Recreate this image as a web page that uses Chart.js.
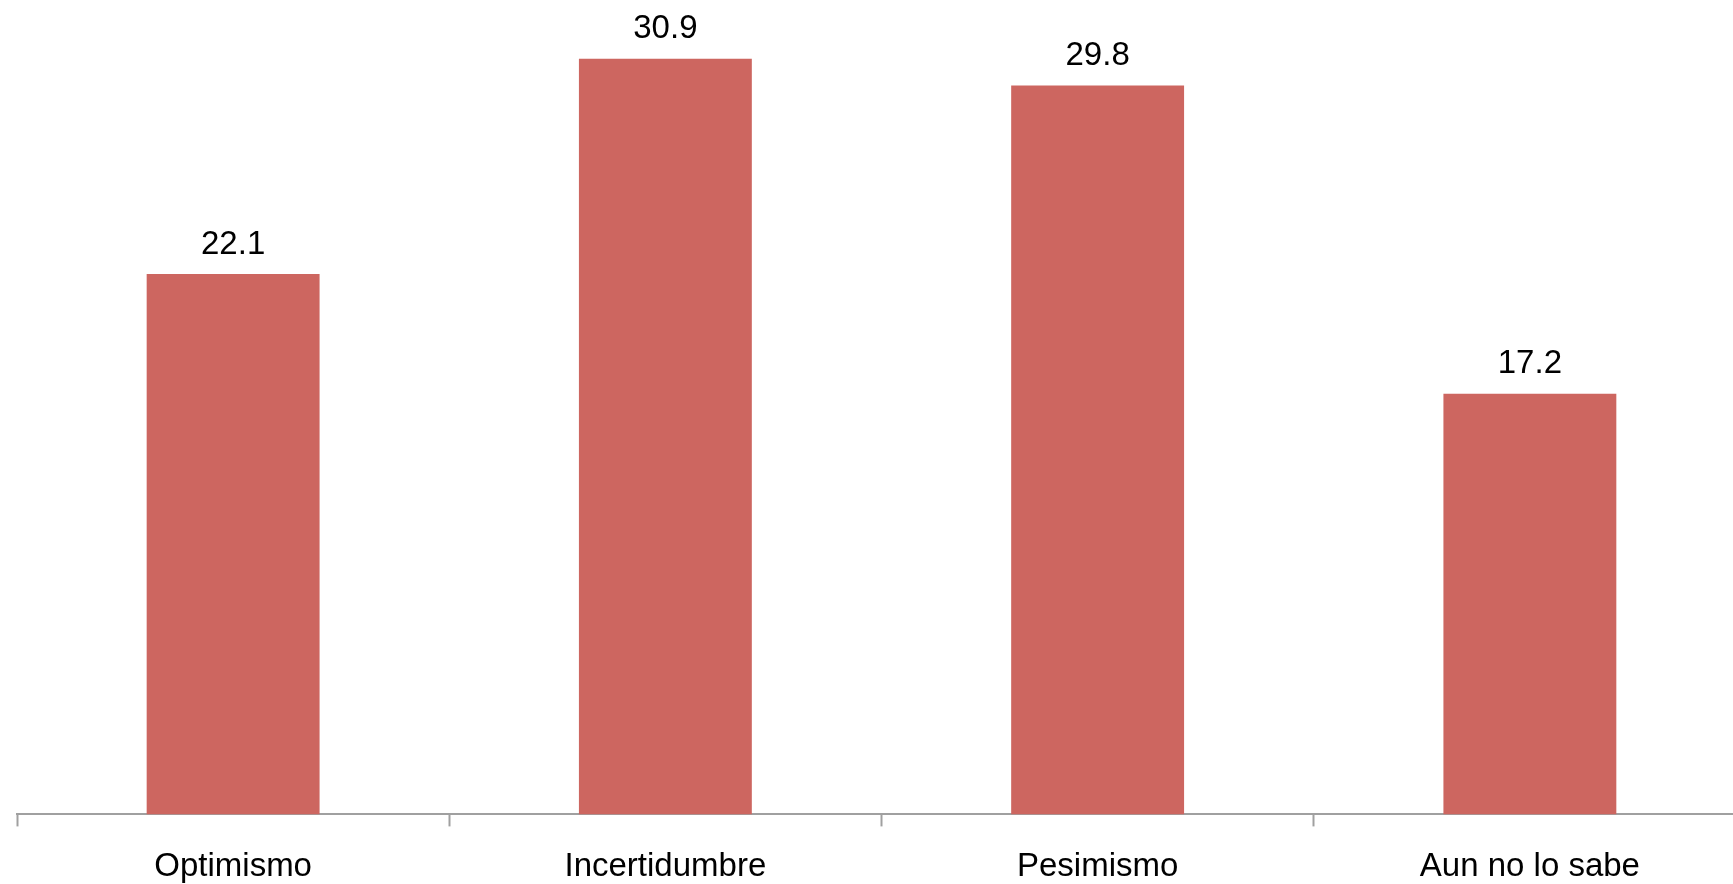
<!DOCTYPE html>
<html>
<head>
<meta charset="utf-8">
<script src="https://cdn.jsdelivr.net/npm/chart.js@4"></script>
<style>
  html, body { margin: 0; padding: 0; background: #fff; overflow: hidden; }
  #wrap { width: 1746px; height: 908px; }
</style>
</head>
<body>
<div id="wrap"><canvas id="grafico"></canvas></div>
<script>
const categorias = ['Optimismo', 'Incertidumbre', 'Pesimismo', 'Aun no lo sabe'];
const valores = [22.1, 30.9, 29.8, 17.2];

const FONTE = '"Liberation Sans", Arial, Helvetica, sans-serif';

// rótulos de valor acima de cada barra
const rotulos = {
    id: 'rotulos',
    afterDatasetsDraw(chart) {
        const ctx = chart.ctx;
        const meta = chart.getDatasetMeta(0);
        ctx.save();
        ctx.font = '33px ' + FONTE;
        ctx.fillStyle = '#000';
        ctx.textAlign = 'center';
        ctx.textBaseline = 'bottom';
        meta.data.forEach((bar, i) => {
            ctx.fillText(valores[i].toFixed(1), bar.x, bar.y - 13);
        });
        ctx.restore();
    }
};

new Chart(document.getElementById('grafico'), {
    type: 'bar',
    data: {
        labels: categorias,
        datasets: [{
            data: valores,
            backgroundColor: '#CD6660',
            borderWidth: 0,
            categoryPercentage: 0.4,
            barPercentage: 1
        }]
    },
    options: {
        responsive: true,
        maintainAspectRatio: false,
        animation: false,
        layout: { padding: { left: 17, right: 0, top: 0, bottom: 0 } },
        plugins: {
            legend: { display: false },
            tooltip: { enabled: false }
        },
        scales: {
            y: {
                display: false,
                min: 0,
                max: 33.3
            },
            x: {
                grid: {
                    display: true,
                    drawOnChartArea: false,
                    tickLength: 12,
                    tickWidth: 2,
                    tickColor: '#a0a0a0',
                    offset: true
                },
                border: { display: true, color: '#a0a0a0', width: 2 },
                ticks: {
                    color: '#000',
                    padding: 21,
                    font: { family: FONTE, size: 33 }
                }
            }
        }
    },
    plugins: [rotulos]
});
</script>
</body>
</html>
